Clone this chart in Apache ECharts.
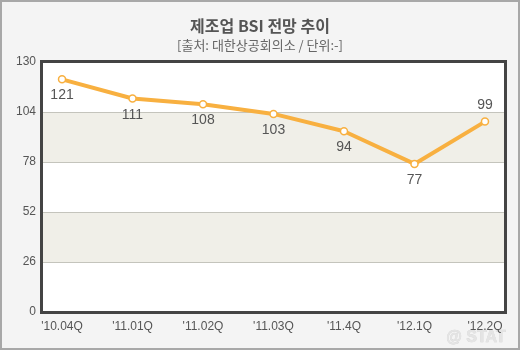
<!DOCTYPE html>
<html>
<head>
<meta charset="utf-8">
<script src="https://cdn.jsdelivr.net/npm/echarts@6/dist/echarts.min.js"></script>
<style>
html,body{margin:0;padding:0;background:#f4f4f4;}
#wrap{position:relative;width:520px;height:350px;}
#chart{width:520px;height:350px;}
#frame{position:absolute;left:40px;top:60px;width:467px;height:254px;box-sizing:border-box;border:3px solid #444;pointer-events:none;}
#outer{position:absolute;left:0;top:0;width:520px;height:350px;box-sizing:border-box;border:2px solid #a8a8a8;pointer-events:none;}
</style>
</head>
<body>
<div id="wrap">
  <div id="chart"></div>
  <div id="frame"></div>
  <div id="outer"></div>
</div>
<script>
// Quarterly manufacturing BSI outlook
const categories = ["'10.04Q", "'11.01Q", "'11.02Q", "'11.03Q", "'11.4Q", "'12.1Q", "'12.2Q"];
const bsiValues = [121, 111, 108, 103, 94, 77, 99];
const yTicks = [0, 26, 52, 78, 104, 130];

const numFont = '"Liberation Sans", Arial, sans-serif';
const krFont = '"Noto Sans CJK KR", sans-serif';

const chart = echarts.init(document.getElementById('chart'), null, {renderer: 'canvas'});

const points = bsiValues.map((v, i) => [i, v]);
const lastIdx = bsiValues.length - 1;

chart.setOption({
  backgroundColor: '#f4f4f4',
  animation: false,
  title: [
    {
      text: '제조업 BSI 전망 추이',
      left: 'center', top: 13,
      textStyle: {fontFamily: krFont, fontSize: 16, fontWeight: 'bold', color: '#555'}
    },
    {
      text: '[출처: 대한상공회의소 / 단위:-]',
      left: 'center', top: 34,
      textStyle: {fontFamily: krFont, fontSize: 13, fontWeight: 'normal', color: '#666'}
    }
  ],
  grid: {
    left: 42, right: 15, top: 62, bottom: 38,
    show: true, backgroundColor: '#ffffff', borderWidth: 0
  },
  xAxis: {
    type: 'value',
    min: -0.284, max: lastIdx + 0.284,
    axisLine: {show: false},
    axisTick: {show: false},
    splitLine: {show: false},
    axisLabel: {
      customValues: categories.map((c, i) => i),
      formatter: v => categories[Math.round(v)],
      color: '#555', fontFamily: numFont, fontSize: 12, margin: 9
    }
  },
  yAxis: {
    type: 'value',
    min: yTicks[0], max: yTicks[yTicks.length - 1], interval: 26,
    axisLine: {show: false},
    axisTick: {show: false},
    axisLabel: {color: '#555', fontFamily: numFont, fontSize: 12, margin: 6},
    splitLine: {show: true, lineStyle: {color: '#c4c4bc', width: 1}},
    splitArea: {show: true, areaStyle: {color: ['#ffffff', '#f0efe8']}}
  },
  series: [{
    type: 'line',
    lineStyle: {color: '#f8b040', width: 4},
    itemStyle: {color: '#ffffff', borderColor: '#f8b040', borderWidth: 1.5},
    symbol: 'circle',
    symbolSize: 7,
    z: 5,
    label: {
      show: true,
      position: 'bottom',
      distance: 5,
      color: '#555',
      fontFamily: numFont,
      fontSize: 14,
      formatter: p => p.value[1]
    },
    data: points.map((p, i) => i === lastIdx
      ? {value: p, label: {position: 'top', distance: 5}}
      : {value: p})
  }],
  graphic: [
    {
      type: 'text',
      right: 14, bottom: 4,
      style: {text: '@ STAT', font: 'bold 16px ' + numFont, fill: '#e4e4e4', stroke: '#d0d0d0', lineWidth: 0.5},
      silent: true
    }
  ]
});
</script>
</body>
</html>
